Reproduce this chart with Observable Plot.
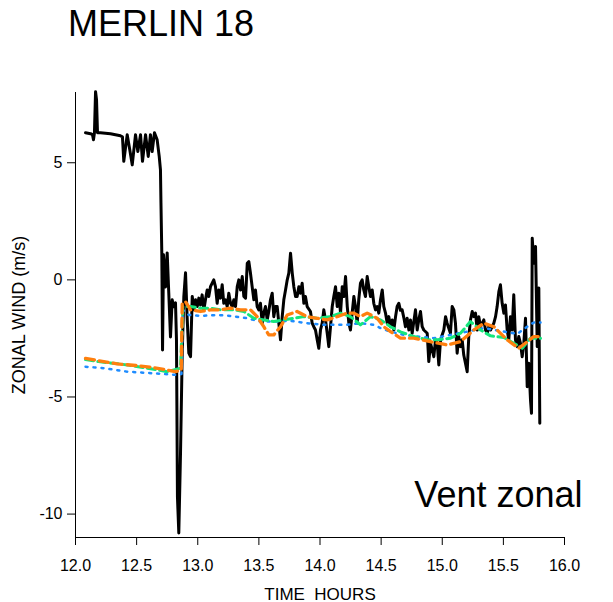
<!DOCTYPE html>
<html><head><meta charset="utf-8">
<script src="https://cdn.jsdelivr.net/npm/d3@7"></script>
<script src="https://cdn.jsdelivr.net/npm/@observablehq/plot@0.6"></script>
<style>
body{margin:0;background:#fff;font-family:"Liberation Sans",Arial,Helvetica,sans-serif;}
#wrap{width:613px;height:602px;position:relative;overflow:hidden;background:#fff}
#title{height:60px;box-sizing:border-box;padding-left:68px;padding-top:6px;font-size:36px;line-height:36px;color:#000}
</style></head><body><div id="wrap"><div id="title">MERLIN 18</div><div id="chart"></div></div>
<script>
const titleText = "MERLIN 18";
const xLabel = "TIME\u00a0\u00a0HOURS";
const yLabel = "ZONAL WIND (m/s)";
const annotation = "Vent zonal";
const xDomain = [12, 16];
const yDomain = [-11, 8];
const xTicks = [12, 12.5, 13, 13.5, 14, 14.5, 15, 15.5, 16];
const yTicks = [-10, -5, 0, 5];

const blackT = [12.082,12.123,12.139,12.147,12.155,12.164,12.172,12.180,12.204,12.286,12.368,12.384,12.395,12.423,12.444,12.464,12.491,12.510,12.532,12.548,12.573,12.595,12.613,12.627,12.646,12.668,12.685,12.695,12.699,12.706,12.712,12.720,12.736,12.750,12.763,12.777,12.791,12.804,12.818,12.826,12.834,12.845,12.859,12.873,12.886,12.900,12.914,12.927,12.941,12.955,
12.968,12.982,12.996,13.009,13.022,13.036,13.050,13.063,13.077,13.090,13.104,13.118,13.131,13.145,13.159,13.172,13.186,13.200,13.213,13.227,13.241,13.254,13.268,13.282,13.295,13.309,13.323,13.336,13.350,13.364,13.377,13.391,13.405,13.418,13.431,13.445,13.459,13.472,13.486,13.499,13.513,13.527,13.540,13.554,13.568,13.581,13.595,13.609,13.622,13.636,13.650,13.663,13.677,13.691,13.704,13.718,13.732,13.745,13.759,13.773,13.786,13.800,13.813,13.827,13.840,13.854,13.868,13.881,13.895,13.922,13.936,13.949,13.963,13.977,13.990,
14.004,14.018,14.031,14.045,14.059,14.072,14.086,14.100,14.113,14.127,14.141,14.154,14.168,14.182,14.195,14.209,14.223,14.236,14.249,14.263,14.277,14.290,14.304,14.317,14.331,14.345,14.358,14.372,14.386,14.399,14.413,14.427,14.440,14.454,14.468,14.481,14.495,14.509,14.522,14.536,14.550,14.563,14.577,14.591,14.604,14.618,14.631,14.645,14.658,14.672,14.686,14.699,14.713,14.727,14.740,14.754,14.781,14.795,14.808,14.822,14.836,14.849,14.877,14.890,14.904,14.918,14.931,14.945,14.959,14.972,14.986,
15.013,15.027,15.040,15.067,15.081,15.095,15.108,15.122,15.135,15.149,15.163,15.176,15.204,15.217,15.231,15.245,15.258,15.272,15.286,15.299,15.313,15.340,15.354,15.368,15.381,15.395,15.422,15.436,15.449,15.463,15.476,15.490,15.504,15.517,15.531,15.544,15.558,15.572,15.585,15.599,15.613,15.626,15.640,15.654,15.667,15.681,15.695,15.708,15.722,15.730,15.736,15.749,15.763,15.777,15.790,15.798];
const blackV = [6.28,6.24,6.20,5.98,6.28,8.03,7.69,6.28,6.28,6.24,6.15,6.11,5.06,6.20,5.56,4.91,6.20,5.48,6.20,5.06,6.20,5.27,6.20,5.48,6.28,5.98,5.26,4.70,3.29,1.15,-2.99,1.07,-0.30,1.15,-0.56,-2.44,-0.85,-1.15,-0.98,-2.56,-9.27,-10.81,-7.39,-3.12,-0.73,0.30,-1.71,-3.13,-3.28,-0.71,
-1.28,-0.85,-1.14,-0.78,-1.07,-0.64,-1.28,-0.85,-0.43,-0.71,-0.29,-0.14,0.00,-0.29,-1.00,-0.43,-0.78,-0.21,-1.00,-0.85,-1.14,-0.57,-1.00,-1.14,-0.85,-1.14,-0.29,0.00,-0.43,0.14,-0.71,-0.78,0.71,0.78,0.29,-0.29,-0.85,-0.43,-1.14,-1.28,-1.00,-1.85,-1.42,-1.14,-1.71,-1.35,-0.85,-0.57,-1.57,-1.14,-1.14,-1.85,-2.56,-1.57,-0.85,-0.43,0.00,0.29,1.14,0.29,-0.29,-0.71,-0.71,-0.29,-0.57,-0.14,-1.00,-0.71,-1.14,-1.35,-1.85,-2.00,-2.14,-2.56,-2.92,
-2.14,-1.85,-1.28,-1.71,-2.28,-2.85,-2.00,-1.14,-0.71,-0.29,-1.14,-0.57,-1.42,-0.29,-0.71,0.14,-1.14,-1.85,-2.14,-1.42,-0.71,-1.14,-1.85,-0.85,-0.14,0.00,-0.43,-0.71,0.14,-0.29,-0.71,-0.43,-1.00,-1.28,-1.14,-1.42,-0.85,-0.43,-1.14,-1.42,-1.85,-1.57,-2.00,-1.71,-2.14,-1.57,-1.14,-1.00,-1.30,-1.28,-1.62,-2.00,-1.64,-2.14,-1.71,-2.28,-1.28,-2.14,-1.71,-1.35,-2.00,-2.14,-2.28,-3.49,-2.71,-2.99,-3.28,-2.56,-2.71,-3.63,-2.56,
-2.14,-1.57,-1.85,-2.28,-1.14,-1.28,-1.85,-3.13,-2.42,-2.85,-2.56,-3.21,-3.92,-2.42,-1.71,-1.35,-1.57,-1.42,-2.14,-1.57,-2.00,-1.71,-2.14,-2.28,-2.00,-2.14,-1.85,-1.57,-1.14,-0.50,-0.21,-1.00,-1.42,-1.07,-2.14,-2.56,-1.57,-2.14,-0.64,-2.56,-2.85,-2.42,-2.71,-3.28,-2.71,-1.64,-4.56,-3.56,-5.13,-5.70,1.78,0.71,1.42,-2.85,-0.35,-6.12];

const orangeT = [12.082,12.231,12.341,12.505,12.613,12.722,12.818,12.865,12.873,12.900,12.941,13.022,13.104,13.186,13.268,13.350,13.431,13.486,13.540,13.581,13.622,13.677,13.732,13.813,13.895,13.977,14.059,14.141,14.223,14.277,14.331,14.386,14.468,14.522,14.577,14.658,14.767,14.904,15.040,15.149,15.258,15.340,15.422,15.531,15.626,15.695,15.749,15.804];
const orangeV = [-3.35,-3.49,-3.59,-3.66,-3.73,-3.82,-3.92,-3.85,-1.00,-0.93,-1.28,-1.35,-1.28,-1.28,-1.21,-1.28,-1.28,-1.57,-2.00,-2.35,-2.35,-2.00,-1.50,-1.35,-1.57,-1.64,-1.71,-1.57,-1.42,-1.42,-1.57,-1.42,-1.64,-2.00,-2.21,-2.49,-2.49,-2.64,-2.78,-2.64,-2.14,-1.85,-2.00,-2.56,-2.92,-2.64,-2.42,-2.42];

const greenT = [12.082,12.188,12.423,12.587,12.750,12.859,12.878,12.941,13.022,13.104,13.186,13.295,13.377,13.459,13.540,13.622,13.704,13.786,13.868,13.977,14.086,14.168,14.249,14.331,14.413,14.495,14.577,14.658,14.767,14.877,14.959,15.067,15.149,15.231,15.313,15.395,15.504,15.585,15.654,15.722,15.804];
const greenV = [-3.40,-3.49,-3.63,-3.77,-3.92,-3.77,-1.14,-1.14,-1.21,-1.21,-1.28,-1.28,-1.35,-1.64,-1.71,-1.78,-1.71,-1.64,-1.57,-1.64,-1.57,-1.42,-1.57,-1.92,-1.57,-1.71,-2.00,-2.22,-2.42,-2.56,-2.56,-2.49,-2.28,-1.78,-2.14,-2.39,-2.46,-2.71,-2.92,-2.49,-2.49];

const blueT = [12.082,12.231,12.423,12.640,12.832,12.867,12.878,12.927,13.022,13.159,13.268,13.405,13.513,13.650,13.759,13.895,14.031,14.223,14.331,14.440,14.495,14.577,14.686,14.795,14.931,15.067,15.204,15.340,15.476,15.613,15.695,15.749,15.804];
const blueV = [-3.71,-3.77,-3.92,-3.99,-4.06,-4.02,-1.28,-1.50,-1.54,-1.50,-1.54,-1.64,-1.78,-1.78,-1.75,-1.85,-1.92,-1.92,-1.85,-1.92,-2.06,-2.21,-2.35,-2.42,-2.49,-2.35,-2.21,-2.06,-2.18,-2.31,-2.00,-1.82,-1.82];

const toRows = (T, V) => T.map((t, i) => ({t, v: V[i]}));
const black = toRows(blackT, blackV);
const orange = toRows(orangeT, orangeV);
const green = toRows(greenT, greenV);
const blue = toRows(blueT, blueV);

const font = "'Liberation Sans', Arial, Helvetica, sans-serif";
const chart = Plot.plot({
  width: 613, height: 542,
  marginLeft: 75, marginRight: 49, marginTop: 32, marginBottom: 65,
  style: {fontFamily: font, fontSize: "16px", background: "white", color: "black", overflow: "visible"},
  x: {domain: xDomain},
  y: {domain: yDomain},
  marks: [
    Plot.axisX({ticks: xTicks, tickFormat: d => d.toFixed(1), tickSize: 8, tickPadding: 14, fontSize: 16, label: null}),
    Plot.axisY({ticks: yTicks, tickFormat: d => String(d), tickSize: 8, tickPadding: 5, fontSize: 16, label: null}),
    Plot.ruleX([xDomain[0]], {stroke: "black", strokeWidth: 1}),
    Plot.ruleY([yDomain[0]], {stroke: "black", strokeWidth: 1}),
    Plot.line(black, {x: "t", y: "v", stroke: "black", strokeWidth: 3, strokeLinejoin: "round"}),
    Plot.line(blue, {x: "t", y: "v", stroke: "#1e8cff", strokeWidth: 2.5, strokeDasharray: "2,6"}),
    Plot.line(green, {x: "t", y: "v", stroke: "#14e67c", strokeWidth: 3, strokeDasharray: "8,4.5"}),
    Plot.line(orange, {x: "t", y: "v", stroke: "#ff7f0e", strokeWidth: 3.3, strokeDasharray: "9,5"}),
    Plot.text([xLabel], {text: d => d, frameAnchor: "bottom", textAnchor: "middle", dy: 62, lineAnchor: "bottom", fontSize: 17, fill: "black"}),
    Plot.text([yLabel], {text: d => d, frameAnchor: "left", textAnchor: "middle", rotate: -90, dx: -56, fontSize: 18, fill: "black"}),
    Plot.text([annotation], {text: d => d, frameAnchor: "bottom-right", textAnchor: "end", dx: 18, dy: -31, lineAnchor: "bottom", fontSize: 36, fill: "black"})
  ]
});
document.getElementById("title").textContent = titleText;
document.getElementById("chart").append(chart);
</script>
</body></html>
